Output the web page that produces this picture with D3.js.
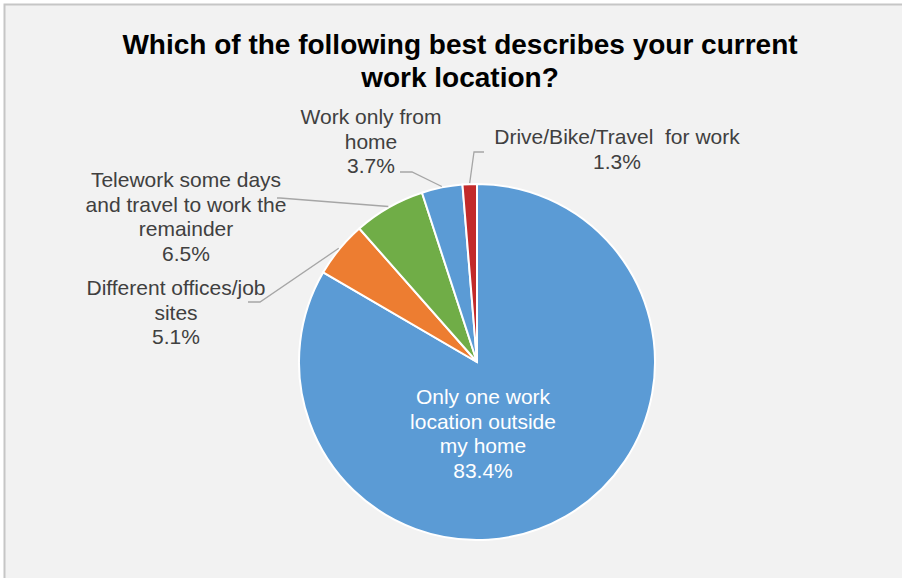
<!DOCTYPE html>
<html>
<head>
<meta charset="utf-8">
<script src="https://cdn.jsdelivr.net/npm/d3@7/dist/d3.min.js"></script>
<style>
  html, body { margin: 0; padding: 0; background: #ffffff; }
  svg { display: block; }
</style>
</head>
<body>
<svg id="chart" width="902" height="578"></svg>
<script>
// Survey answers, clockwise from 12 o'clock
const categories = [
  "Only one work\nlocation outside\nmy home",
  "Different offices/job\nsites",
  "Telework some days\nand travel to work the\nremainder",
  "Work only from\nhome",
  "Drive/Bike/Travel  for work"
];
const values = [83.4, 5.1, 6.5, 3.7, 1.3];
const colors = ["#5b9bd5", "#ed7d31", "#70ad47", "#5b9bd5", "#c22a2a"];

const titleLines = [
  "Which of the following best describes your current",
  "work location?"
];

// Label placement: text block centre x, first baseline, and leader path start
const labelLayout = [
  { x: 483, y: 404, inside: true },
  { x: 176, y: 295, leader: [[248, 302], [260, 302]] },
  { x: 186, y: 187, leader: [[277, 198], [280, 198]] },
  { x: 371, y: 124, leader: [[400, 172], [412, 172]] },
  { x: 617, y: 144, leader: [[484, 152], [474, 152]] }
];

const W = 902, H = 578;
const cx = 477, cy = 362, R = 178;
const fontFamily = "'Liberation Sans', Arial, Helvetica, sans-serif";
const labelSize = 21, lineH = 24.5;

const svg = d3.select("#chart");

// Chart area with its frame (top and left edges visible)
svg.append("rect").attr("x", 5).attr("y", 5).attr("width", W).attr("height", H)
  .attr("fill", "#f2f2f2");
svg.append("path")
  .attr("d", `M4.5,${H} L4.5,4.5 L${W},4.5`)
  .attr("fill", "none").attr("stroke", "#c6c6c6").attr("stroke-width", 2);

// Title
svg.append("text")
  .attr("font-family", fontFamily).attr("font-size", 28).attr("font-weight", "bold")
  .attr("fill", "#000").attr("text-anchor", "middle")
  .selectAll("tspan").data(titleLines).join("tspan")
  .attr("x", 460).attr("y", (d, i) => 54 + i * 33).text(d => d);

const data = categories.map((c, i) => ({ name: c, value: values[i], color: colors[i], layout: labelLayout[i] }));

const pie = d3.pie().sort(null).value(d => d.value).startAngle(0).endAngle(2 * Math.PI);
const arc = d3.arc().innerRadius(0).outerRadius(R);
const arcs = pie(data);

const g = svg.append("g").attr("transform", `translate(${cx},${cy})`);

g.selectAll("path.slice").data(arcs).join("path")
  .attr("class", "slice")
  .attr("d", arc)
  .attr("fill", d => d.data.color)
  .attr("stroke", "#ffffff").attr("stroke-width", 2).attr("stroke-linejoin", "miter");

// Leader lines to outside labels
const fmt = v => d3.format(".1f")(v) + "%";
arcs.forEach(a => {
  const L = a.data.layout;
  if (L.inside) return;
  const mid = (a.startAngle + a.endAngle) / 2;
  const end = [cx + (R + 1) * Math.sin(mid), cy - (R + 1) * Math.cos(mid)];
  const pts = L.leader.concat([end]);
  svg.append("path")
    .attr("d", d3.line()(pts))
    .attr("fill", "none").attr("stroke", "#a6a6a6").attr("stroke-width", 1.3);
});

// Labels: category lines followed by percentage
arcs.forEach(a => {
  const L = a.data.layout;
  const lines = a.data.name.split("\n").concat([fmt(a.data.value)]);
  svg.append("text")
    .attr("font-family", fontFamily).attr("font-size", labelSize)
    .attr("fill", L.inside ? "#ffffff" : "#404040")
    .attr("text-anchor", "middle")
    .selectAll("tspan").data(lines).join("tspan")
    .attr("x", L.x).attr("y", (d, i) => L.y + i * lineH)
    .attr("xml:space", "preserve")
    .text(d => d);
});
</script>
</body>
</html>
